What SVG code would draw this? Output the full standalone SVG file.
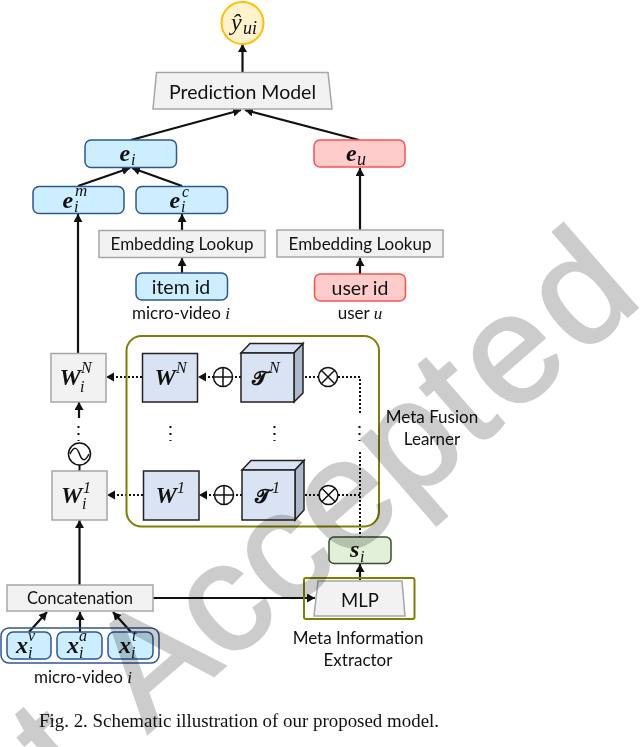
<svg xmlns="http://www.w3.org/2000/svg" width="640" height="747" viewBox="0 0 640 747">
<style>
text{font-family:"Lato","Liberation Sans",sans-serif;fill:#111;text-anchor:middle}
.l{font-size:17px}.k{font-size:16.500px}
.m{font-family:"Liberation Serif","DejaVu Serif",serif;font-weight:bold;font-style:italic;font-size:24px;text-anchor:start}
.f{font-family:"Liberation Serif","DejaVu Serif",serif;font-weight:bold;font-size:20px;text-anchor:start}
.s{font-family:"Liberation Serif","DejaVu Serif",serif;font-style:italic;font-size:16px;text-anchor:start}
.g{fill:#f2f2f2;stroke:#a6a6a6;stroke-width:1.500}
.b{fill:#cceeff;stroke:#2f5597;stroke-width:1.500}
.r{fill:#ffcccc;stroke:#ff5050;stroke-width:1.500}
.d{fill:#dae3f3;stroke:#222;stroke-width:1.500}
.o{fill:none;stroke:#808000;stroke-width:2}
.c{fill:#fff;stroke:#111;stroke-width:1.500}
.a{fill:none;stroke:#111;stroke-width:2.200;marker-end:url(#h)}
.p{fill:none;stroke:#111;stroke-width:2;stroke-dasharray:2 2}
.t{fill:none;stroke:#111;stroke-width:2;stroke-dasharray:2 5}
.q{fill:none;stroke:#111;stroke-width:2;stroke-dasharray:2 2;marker-end:url(#h)}
.z{fill:none;stroke:#111;stroke-width:2}
.n{fill:none;stroke:#111;stroke-width:1.500}
</style>
<defs><marker id="h" markerUnits="userSpaceOnUse" markerWidth="10" markerHeight="10" refX="8" refY="4.500" orient="auto"><path d="M0 0L8 4.500L0 9z" fill="#111"/></marker></defs>
<g id="connectors">
<path class="a" d="M242.500 72V44"/>
<path class="a" d="M131 140L241 110"/>
<path class="a" d="M359 140L245 110"/>
<path class="a" d="M78 186L130 168"/>
<path class="a" d="M182 186L132 168"/>
<path class="a" d="M360 230V168"/>
<path class="a" d="M182 231V214"/>
<path class="a" d="M182 273V258"/>
<path class="a" d="M360 274V258"/>
<path class="a" d="M78 353V214"/>
<path class="q" d="M142 377H106"/>
<path class="q" d="M143 495H107"/>
<path class="q" d="M214 377H198"/>
<path class="q" d="M215 495H199"/>
<path class="p" d="M241 377H232"/>
<path class="p" d="M242 495H233"/>
<path class="q" d="M319 377H294"/>
<path class="q" d="M319 495H295"/>
<path class="p" d="M338 377H360V413"/>
<path class="t" d="M359.500 426V441"/>
<path class="p" d="M360 452V537"/>
<path class="p" d="M338 495H360"/>
<path class="a" d="M79 418V402"/>
<path class="t" d="M78.500 426V441"/>
<path class="z" d="M79.500 465V471"/>
<path class="a" d="M79.500 585V520"/>
<path class="a" d="M153 598H315"/>
<path class="a" d="M360 580V564"/>
<path class="a" d="M29 632L47 612"/>
<path class="a" d="M80 632V612"/>
<path class="a" d="M131 632L113 612"/>
<path class="t" d="M170.500 426V441M274.500 426V441"/>
</g>
<g id="y"><circle cx="242.500" cy="23" r="21" fill="#fff2cc" stroke="#ffc000" stroke-width="2"/><text class="m" x="231" y="30" style="font-weight:normal">ŷ</text><text class="s" x="243" y="33.500" style="font-size:18px">ui</text></g>
<g id="prediction"><path class="g" d="M156.500 72.500H328L332 109H153z"/><text x="242.500" y="99" style="font-size:19.500px">Prediction Model</text></g>
<g id="ei"><rect class="b" x="85" y="140" width="91.500" height="27.500" rx="6"/><text class="m" x="119.500" y="161">e</text><text class="s" x="131" y="165">i</text></g>
<g id="eu"><rect class="r" x="314" y="140" width="91" height="27" rx="6"/><text class="m" x="346" y="161">e</text><text class="s" x="357" y="165" style="font-size:18px">u</text></g>
<g id="eim"><rect class="b" x="33" y="186.500" width="91" height="27" rx="6"/><text class="m" x="62.500" y="208">e</text><text class="s" x="75" y="196" style="font-size:17px">m</text><text class="s" x="74" y="212">i</text></g>
<g id="eic"><rect class="b" x="136" y="186.500" width="91.500" height="27" rx="6"/><text class="m" x="169.500" y="208">e</text><text class="s" x="182" y="196.500">c</text><text class="s" x="181" y="212">i</text></g>
<g id="lookup-item"><rect class="g" x="99" y="230.500" width="166" height="27"/><text class="l" x="182" y="250">Embedding Lookup</text></g>
<g id="lookup-user"><rect class="g" x="277" y="230" width="166" height="27"/><text class="l" x="360" y="249.500">Embedding Lookup</text></g>
<g id="item"><rect class="b" x="136" y="273" width="91.500" height="27" rx="6"/><text x="181" y="294" style="font-size:19.500px">item id</text><text class="l" x="181" y="319">micro-video <tspan font-family="Liberation Serif" font-style="italic">i</tspan></text></g>
<g id="user"><rect class="r" x="314.500" y="274" width="91" height="27" rx="6"/><text x="360" y="295" style="font-size:19.500px">user id</text><text class="l" x="360" y="319">user <tspan font-family="Liberation Serif" font-style="italic">u</tspan></text></g>
<g id="wn"><rect class="g" x="51" y="353.500" width="55" height="48.500"/><text class="m" x="59.500" y="385">W</text><text class="s" x="81" y="373">N</text><text class="s" x="80" y="392">i</text></g>
<g id="w1"><rect class="g" x="52" y="471" width="55" height="49"/><text class="m" x="61" y="503">W</text><text class="s" x="83" y="493">1</text><text class="s" x="82" y="509">i</text></g>
<g id="tilde"><circle class="c" cx="79.500" cy="454" r="11"/><path class="n" d="M70 454C74 446 77 447 79.500 454S85 462 89 454"/></g>
<g id="fusion"><rect class="o" x="126.500" y="336" width="252.500" height="190.500" rx="15"/><path class="d" d="M142.500 353.500H197.500V402H142.500z"/><text class="m" x="154.500" y="385">W</text><text class="s" x="176" y="373">N</text><path class="d" d="M143.500 471H199V520H143.500z"/><text class="m" x="155.500" y="503">W</text><text class="s" x="177" y="493">1</text>
<path class="d" d="M241 353L250 343.500H303L294 353z"/><path d="M294 353L303 343.500V393L294 402z" fill="#adb9ca" stroke="#222" stroke-width="1.500"/><path class="d" d="M241 353H294V402H241z"/><text class="f" x="252" y="385">𝓣</text><text class="s" x="269" y="373">N</text>
<path class="d" d="M242 470L251 460.500H304L295 470z"/><path d="M295 470L304 460.500V510L295 520z" fill="#adb9ca" stroke="#222" stroke-width="1.500"/><path class="d" d="M242 470H295V520H242z"/><text class="f" x="255" y="503">𝓣</text><text class="s" x="272" y="493">1</text>
<circle class="c" cx="223" cy="377" r="9.500"/><path class="n" d="M213.500 377H232.500M223 367.500V386.500"/><circle class="c" cx="224" cy="495" r="9.500"/><path class="n" d="M214.500 495H233.500M224 485.500V504.500"/>
<circle class="c" cx="328" cy="377" r="9.500"/><path class="n" d="M321.300 370.300L334.700 383.700M334.700 370.300L321.300 383.700"/><circle class="c" cx="328.500" cy="495" r="9.500"/><path class="n" d="M321.800 488.300L335.200 501.700M335.200 488.300L321.800 501.700"/></g>
<g id="fusion-label"><text class="l" x="432" y="423">Meta Fusion</text><text class="l" x="432" y="445">Learner</text></g>
<g id="si"><rect x="329" y="537" width="62" height="26.500" rx="5" fill="#e2f0d9" stroke="#3b4a30" stroke-width="1.500"/><text class="m" x="350" y="557">s</text><text class="s" x="360" y="562">i</text></g>
<g id="mlp"><rect class="o" x="304" y="578" width="110.500" height="41" rx="2"/><path class="g" d="M318 581H402L405 616H314z"/><text x="360" y="607" style="font-size:18.500px">MLP</text><text class="l" x="358" y="644">Meta Information</text><text class="l" x="358" y="666">Extractor</text></g>
<g id="concat"><rect class="g" x="7" y="585" width="146" height="26"/><text class="k" x="80" y="604">Concatenation</text></g>
<g id="x"><rect x="1" y="628" width="158" height="35" rx="8" fill="none" stroke="#2f5597" stroke-width="1.500"/>
<rect class="b" x="7" y="632" width="44" height="27" rx="6"/><text class="m" x="16" y="653">x</text><text class="s" x="28" y="641">v</text><text class="s" x="28" y="658">i</text>
<rect class="b" x="57" y="632" width="45" height="27" rx="6"/><text class="m" x="67" y="653">x</text><text class="s" x="79" y="641">a</text><text class="s" x="79" y="658">i</text>
<rect class="b" x="108" y="632" width="45" height="27" rx="6"/><text class="m" x="119" y="653">x</text><text class="s" x="132" y="641">t</text><text class="s" x="131" y="658">i</text>
<text class="l" x="83" y="683">micro-video <tspan font-family="Liberation Serif" font-style="italic">i</tspan></text></g>
<text x="239" y="727" style="font-family:'Liberation Serif',serif;font-size:18px" textLength="400" lengthAdjust="spacingAndGlyphs">Fig. 2.  Schematic illustration of our proposed model.</text>
<g style="mix-blend-mode:multiply"><text transform="translate(70 801) rotate(-41)" style="font-family:'Liberation Sans',sans-serif;font-size:155px;fill:#ccc;stroke:#ccc;stroke-width:2.500;text-anchor:start">t <tspan dx="25">Accept</tspan><tspan dx="6">e</tspan><tspan dx="7">d</tspan></text></g>
</svg>
